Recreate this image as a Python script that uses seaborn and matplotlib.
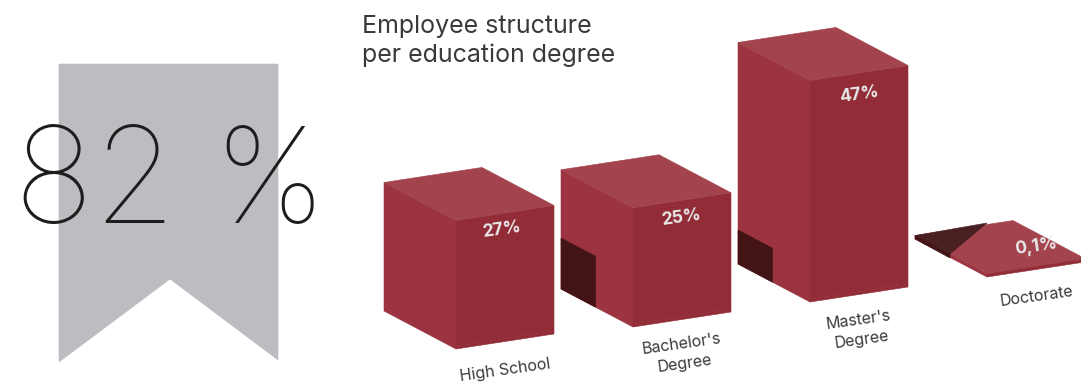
import matplotlib
matplotlib.use("Agg")
import matplotlib.pyplot as plt
from matplotlib.patches import Polygon
from matplotlib.transforms import Affine2D
import seaborn as sns

# Chart data
categories = ["High School", "Bachelor's\nDegree", "Master's\nDegree", "Doctorate"]
shares = [27, 25, 47, 0.1]
headline = "82 %"
title = "Employee structure\nper education degree"

# Layout of the isometric blocks, in canvas pixels
front_corners = [(456, 349), (633, 327), (810, 302), (987, 277)]
right_edge = (98, -15)
depth_edge = (-72, -38)
px_per_percent = 4.65
plinth = 3
bar_width = 0.8
label_spots = [(505, 370), (683, 354), (860, 330), (1037, 296)]
value_spots = [(502, 230), (681, 218), (859, 95), (1036, 247)]
shadow_heights = [0, 51, 34, 0]

FRONT = "#922C37"
LEFT = "#9B3440"
TOP = "#A3434D"
DARK = "#421416"
RIBBON = "#BCBDC1"

sns.set_theme(style="white")
plt.rcParams["font.family"] = ["Inter", "DejaVu Sans"]

fig = plt.figure(figsize=(10.81, 3.83), dpi=100, facecolor="white")
ax = fig.add_axes([0, 0, 1, 1])

# Front faces are ordinary seaborn bars, sheared onto the isometric plane
sns.barplot(x=list(range(len(shares))), y=shares, width=bar_width, color=FRONT,
            saturation=1, ax=ax, zorder=3)
ax.set_xlim(0, 1081)
ax.set_ylim(383, 0)
ax.set_axis_off()


def face(points, color, zorder=2):
    ax.add_patch(Polygon(points, closed=True, facecolor=color, edgecolor=color,
                         linewidth=0.4, zorder=zorder))


for i, (bar, value) in enumerate(zip(ax.patches, shares)):
    fx, fy = front_corners[i]
    rx, ry = right_edge
    dx, dy = depth_edge
    left = i - bar_width / 2
    shear = Affine2D.from_values(rx / bar_width, ry / bar_width, 0, -px_per_percent,
                                 fx - rx * left / bar_width,
                                 fy - plinth - ry * left / bar_width)
    bar.set_transform(shear + ax.transData)
    bar.set_facecolor(FRONT)
    bar.set_edgecolor(FRONT)
    bar.set_linewidth(0.4)
    bar.set_clip_on(False)

    top_y = fy - plinth - px_per_percent * value
    # plinth under the front face
    face([(fx, fy), (fx + rx, fy + ry), (fx + rx, fy + ry - plinth), (fx, fy - plinth)], FRONT, 3)
    # left side
    face([(fx, fy), (fx + dx, fy + dy), (fx + dx, top_y + dy), (fx, top_y)], LEFT)
    # top
    face([(fx, top_y), (fx + rx, top_y + ry), (fx + rx + dx, top_y + ry + dy), (fx + dx, top_y + dy)], TOP, 4)

    # shadow cast onto the rear part of the left side
    h = shadow_heights[i]
    if h:
        fr = 0.52
        mx, my = fx + dx * fr, fy + dy * fr
        face([(mx, my), (fx + dx, fy + dy), (fx + dx, fy + dy - h), (mx, my - h)], DARK, 5)

    tx, ty = value_spots[i]
    ax.text(tx, ty, f"{value}%".replace(".", ","), color="#E9E9EA", fontsize=12.5,
            fontweight="bold", rotation=8, ha="center", va="center", zorder=7)
    lx, ly = label_spots[i]
    ax.text(lx, ly, categories[i], color="#3A3A3C", fontsize=11.5, fontweight="normal",
            rotation=8, ha="center", va="center", linespacing=1.35, zorder=7)

# Dark wedge lying on the Doctorate plate
fx, fy = front_corners[3]
top_y = fy - plinth - px_per_percent * shares[3]
face([(fx + depth_edge[0], top_y + depth_edge[1]), (987, 223), (950, 254)], "#4A2022", 5)
face([(fx + depth_edge[0], fy + depth_edge[1]), (fx + depth_edge[0], top_y + depth_edge[1]),
      (950, 254), (950, 258)], DARK, 5)

# Ribbon behind the headline figure
face([(59, 64), (278, 64), (278, 360), (170, 279), (59, 362)], RIBBON, 1)
ax.text(170, 188, headline, color="#1E1C1D", fontsize=96, fontweight=100,
        ha="center", va="center", zorder=6)

ax.text(362, 41, title, color="#3A3A3C", fontsize=18, fontweight="normal", ha="left", va="center",
        linespacing=1.3, zorder=6)

fig.savefig("out.png", dpi=100)
